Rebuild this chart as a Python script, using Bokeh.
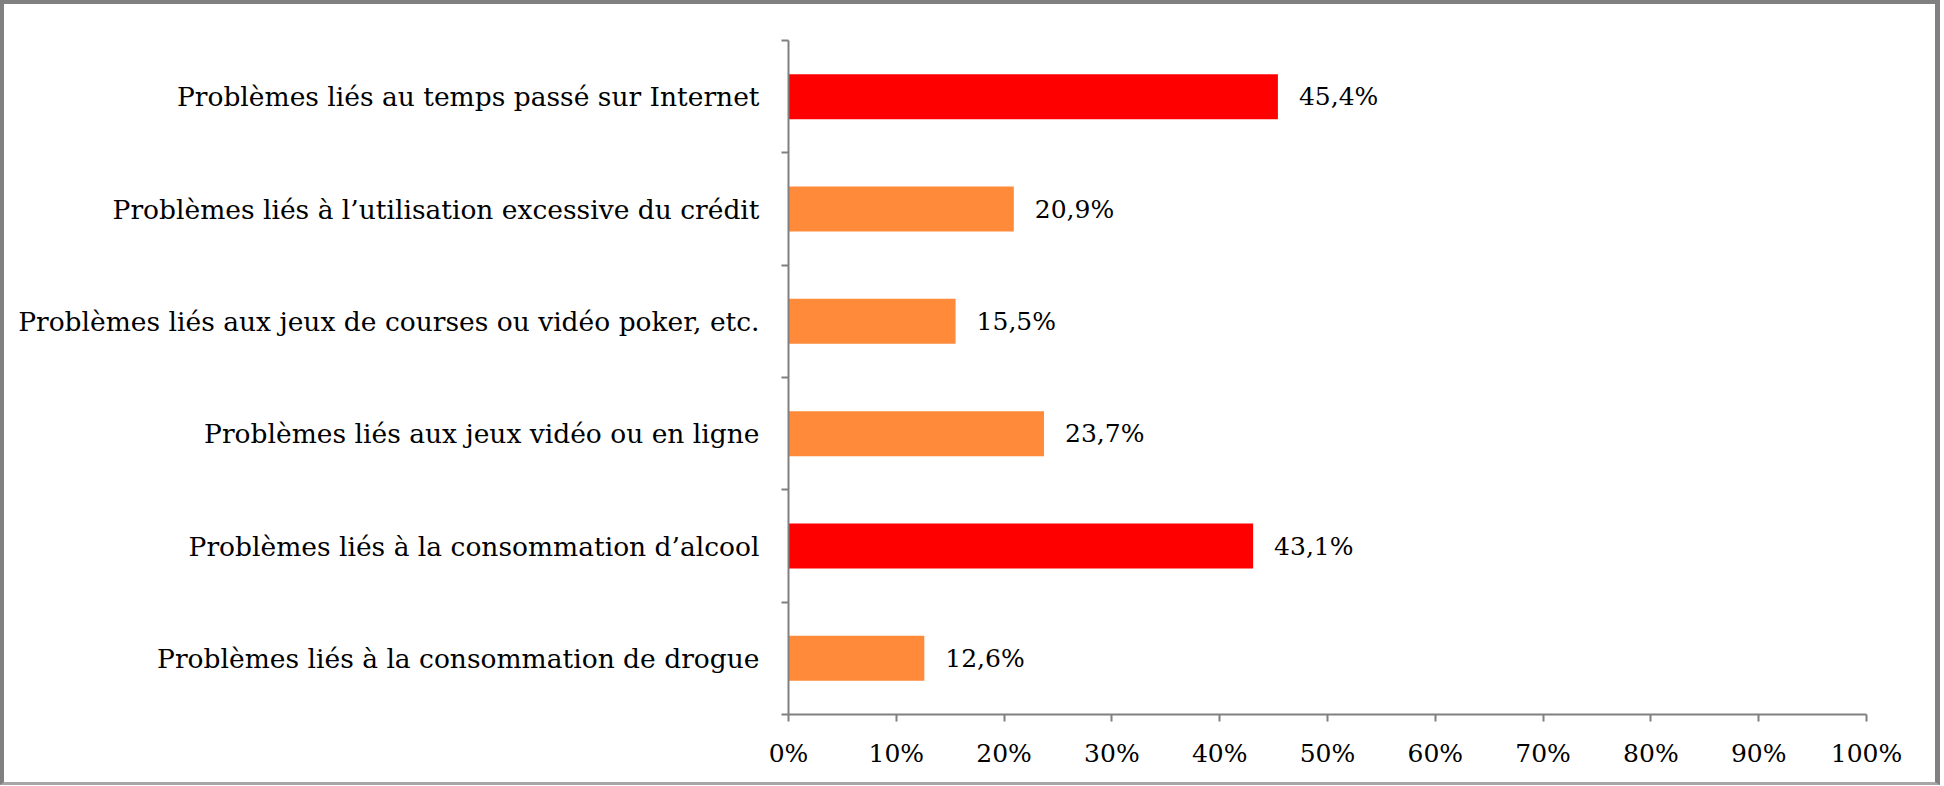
from bokeh.plotting import figure
from bokeh.models import ColumnDataSource, FixedTicker, LabelSet, Range1d
from bokeh.core.properties import value
from bokeh.embed import file_html
from bokeh.resources import INLINE

categories = [
    "Problèmes liés au temps passé sur Internet",
    "Problèmes liés à l’utilisation excessive du crédit",
    "Problèmes liés aux jeux de courses ou vidéo poker, etc.",
    "Problèmes liés aux jeux vidéo ou en ligne",
    "Problèmes liés à la consommation d’alcool",
    "Problèmes liés à la consommation de drogue",
]
values = [45.4, 20.9, 15.5, 23.7, 43.1, 12.6]
value_labels = ["45,4%", "20,9%", "15,5%", "23,7%", "43,1%", "12,6%"]
bar_colors = ["#FF0000", "#FF8A3A", "#FF8A3A", "#FF8A3A", "#FF0000", "#FF8A3A"]
x_ticks = [0, 10, 20, 30, 40, 50, 60, 70, 80, 90, 100]
x_tick_labels = ["0%", "10%", "20%", "30%", "40%", "50%", "60%", "70%", "80%", "90%", "100%"]

n = len(categories)
ypos = [n - i - 0.5 for i in range(n)]

FONT = "DejaVu Serif"
W, H = 1940, 785

p = figure(width=W, height=H, output_backend="svg", toolbar_location=None,
           x_range=Range1d(0, 100), y_range=Range1d(0, n))
p.min_border_left = 784
p.min_border_right = 78
p.min_border_top = 36
p.min_border_bottom = 75
p.outline_line_color = None
p.grid.visible = False
p.styles = {"border-left": "4px solid #808080", "border-top": "4px solid #808080",
            "border-right": "5px solid #808080", "border-bottom": "3px solid #A6A6A6"}

src = ColumnDataSource(dict(y=ypos, v=values, lab=value_labels, c=bar_colors))
p.hbar(y="y", left=0, right="v", height=0.4, fill_color="c", line_color=None, source=src)

labels = LabelSet(x="v", y="y", text="lab", source=src, x_offset=21, y_offset=0,
                  text_baseline="middle", text_font=value(FONT), text_font_size=value("25px"),
                  text_color="black")
p.add_layout(labels)

# x axis
xa = p.xaxis[0]
xa.ticker = FixedTicker(ticks=x_ticks)
xa.major_label_overrides = {t: l for t, l in zip(x_ticks, x_tick_labels)}
xa.axis_line_color = "#808080"
xa.axis_line_width = 2
xa.major_tick_line_color = "#808080"
xa.major_tick_line_width = 2
xa.major_tick_out = 7
xa.major_tick_in = 0
xa.minor_tick_line_color = None
xa.major_label_text_font = FONT
xa.major_label_text_font_size = "25px"
xa.major_label_text_color = "black"
xa.major_label_standoff = 17

# y axis: labels at band centres, tick marks at band boundaries
ya = p.yaxis[0]
ya.ticker = FixedTicker(ticks=ypos, minor_ticks=list(range(n + 1)))
ya.major_label_overrides = {y: c for y, c in zip(ypos, categories)}
ya.axis_line_color = "#808080"
ya.axis_line_width = 2
ya.major_tick_line_color = None
ya.major_tick_out = 0
ya.major_tick_in = 0
ya.minor_tick_line_color = "#808080"
ya.minor_tick_line_width = 2
ya.minor_tick_out = 7
ya.minor_tick_in = 0
ya.major_label_text_font = FONT
ya.major_label_text_font_size = "26.5px"
ya.major_label_text_color = "black"
ya.major_label_standoff = 22

open("out.html", "w").write(file_html(p, INLINE))
